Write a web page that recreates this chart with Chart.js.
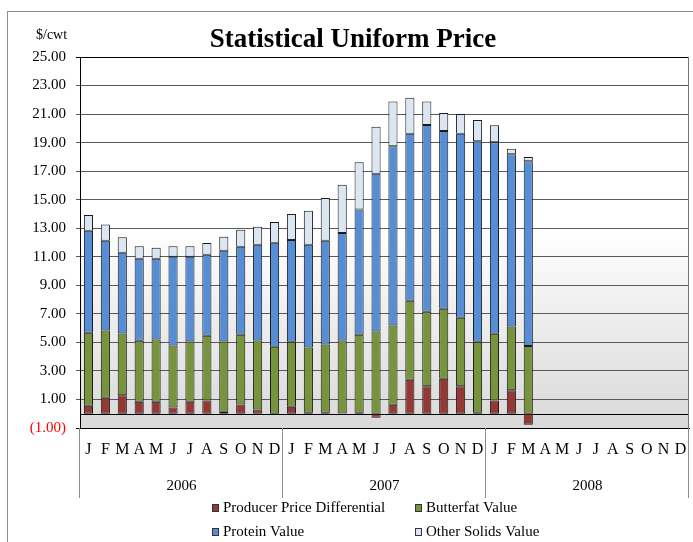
<!DOCTYPE html>
<html>
<head>
<meta charset="utf-8">
<script src="https://cdn.jsdelivr.net/npm/chart.js@4.4.1/dist/chart.umd.min.js"></script>
<style>
  html, body { margin: 0; padding: 0; background: #fff; }
  canvas { display: block; }
</style>
</head>
<body>
<canvas id="chart" width="693" height="542"></canvas>
<script>
// months, three years
const months = ['J','F','M','A','M','J','J','A','S','O','N','D']
const years = ['2006', '2007', '2008']
const labels = [].concat(months, months, months)

// $/cwt, Jan 2006 .. Mar 2008 (rest of 2008 empty)
const producerPriceDiff = [0.56, 1.12, 1.29, 0.84, 0.84, 0.44, 0.84, 0.93, 0.14, 0.65, 0.30, -0.05,
    0.49, 0.07, 0.07, 0.02, 0.07, -0.28, 0.63, 2.38, 1.92, 2.45, 1.92, 0.07,
    0.93, 1.64, -0.77]
const butterfatValue = [5.12, 4.72, 4.34, 4.28, 4.37, 4.35, 4.23, 4.54, 4.93, 4.89, 4.84, 4.70,
    4.56, 4.58, 4.79, 5.12, 5.47, 5.77, 5.56, 5.54, 5.23, 4.91, 4.81, 4.98,
    4.68, 4.48, 4.74]
const proteinValue = [7.15, 6.29, 5.66, 5.74, 5.65, 6.21, 5.93, 5.67, 6.36, 6.17, 6.71, 7.29,
    7.12, 7.20, 7.27, 7.52, 8.78, 11.05, 12.55, 11.71, 13.08, 12.45, 12.90, 14.04,
    13.41, 12.06, 12.95]
const otherSolidsValue = [1.10, 1.14, 1.07, 0.87, 0.78, 0.73, 0.73, 0.82, 0.98, 1.19, 1.26, 1.44,
    1.83, 2.38, 2.99, 3.39, 3.30, 3.30, 3.15, 2.52, 1.66, 1.26, 1.37, 1.49,
    1.19, 0.39, 0.30]

const serif = "'Liberation Serif', 'Times New Roman', serif"

// pad series out to 36 months
function pad(arr) {
    let out = arr.slice()
    while (out.length < labels.length) out.push(null)
    return out
}

const decor = {
    id: 'decor',
    beforeDraw(chart) {
        const ctx = chart.ctx
        const a = chart.chartArea
        ctx.save()
        // outer frame (runs off the right and bottom edge)
        ctx.strokeStyle = '#8c8c8c'
        ctx.lineWidth = 1
        ctx.strokeRect(7.5, 11.5, 900, 900)
        // plot background gradient
        let g = ctx.createLinearGradient(0, a.top, 0, a.bottom)
        g.addColorStop(0, '#ffffff')
        g.addColorStop(0.46, '#ffffff')
        g.addColorStop(1, '#d9d9d9')
        ctx.fillStyle = g
        ctx.fillRect(a.left, a.top, a.right - a.left, a.bottom - a.top)
        ctx.restore()
    },
    beforeDatasetsDraw(chart) {
        const ctx = chart.ctx
        const a = chart.chartArea
        const y0 = Math.round(chart.scales.y.getPixelForValue(0)) + 0.5
        ctx.save()
        ctx.strokeStyle = '#000'
        ctx.lineWidth = 1
        ctx.beginPath()
        ctx.moveTo(a.left, y0)
        ctx.lineTo(a.right, y0)
        ctx.stroke()
        // right edge of plot
        ctx.strokeStyle = '#777'
        ctx.beginPath()
        ctx.moveTo(a.right - 0.5, a.top)
        ctx.lineTo(a.right - 0.5, a.bottom)
        ctx.stroke()
        ctx.restore()
    },
    afterDraw(chart) {
        const ctx = chart.ctx
        const a = chart.chartArea
        const x = chart.scales.x
        ctx.save()
        // title and unit
        ctx.fillStyle = '#000'
        ctx.textAlign = 'center'
        ctx.textBaseline = 'alphabetic'
        ctx.font = 'bold 27px ' + serif
        ctx.fillText('Statistical Uniform Price', 353, 47)
        ctx.font = '14px ' + serif
        ctx.textAlign = 'left'
        ctx.textBaseline = 'middle'
        ctx.fillText('$/cwt', 36, 35)

        // year separators and labels
        ctx.strokeStyle = '#8c8c8c'
        ctx.lineWidth = 1
        for (let k = 0; k <= years.length; k++) {
            let px = Math.round(a.left + (a.right - a.left) * k / years.length) - 0.5
            ctx.beginPath()
            ctx.moveTo(px, a.bottom)
            ctx.lineTo(px, 498)
            ctx.stroke()
        }
        ctx.font = '15px ' + serif
        ctx.textAlign = 'center'
        years.forEach((yr, k) => {
            let cx = (x.getPixelForValue(k * 12) + x.getPixelForValue(k * 12 + 11)) / 2
            ctx.fillText(yr, cx, 486)
        })

        // legend, 2 x 2
        const cols = [212, 415]
        const rows = [508, 532]
        ctx.textAlign = 'left'
        chart.data.datasets.forEach((ds, i) => {
            let lx = cols[i % 2]
            let ly = rows[Math.floor(i / 2)]
            ctx.fillStyle = ds.backgroundColor
            ctx.fillRect(lx, ly - 4, 7, 8)
            ctx.strokeStyle = '#333'
            ctx.strokeRect(lx + 0.5, ly - 3.5, 6, 7)
            ctx.fillStyle = '#000'
            ctx.fillText(ds.label, lx + 11, ly)
        })
        ctx.restore()
    }
}

const ctx = document.getElementById('chart').getContext('2d')
new Chart(ctx, {
    type: 'bar',
    data: {
        labels: labels,
        datasets: [
            { label: 'Producer Price Differential', data: pad(producerPriceDiff), backgroundColor: '#953735' },
            { label: 'Butterfat Value', data: pad(butterfatValue), backgroundColor: '#77933c' },
            { label: 'Protein Value', data: pad(proteinValue), backgroundColor: '#558ed5' },
            { label: 'Other Solids Value', data: pad(otherSolidsValue), backgroundColor: '#dce6f2' }
        ]
    },
    options: {
        responsive: false,
        animation: false,
        layout: { padding: { top: 57, right: 4, left: 0, bottom: 0 } },
        datasets: {
            bar: {
                borderColor: '#1a1a1a',
                borderWidth: 1,
                borderSkipped: false,
                categoryPercentage: 1,
                barPercentage: 0.54
            }
        },
        plugins: {
            legend: { display: false },
            title: { display: false },
            tooltip: { enabled: false }
        },
        scales: {
            x: {
                stacked: true,
                grid: { display: false, drawTicks: false },
                border: { display: true, color: '#000' },
                ticks: {
                    autoSkip: false,
                    maxRotation: 0,
                    padding: 12,
                    color: '#000',
                    font: { family: serif, size: 16 }
                },
                afterFit(scale) {
                    scale.height = 114
                    scale.paddingLeft = 0
                    scale.paddingRight = 0
                }
            },
            y: {
                stacked: true,
                min: -1,
                max: 25,
                ticks: {
                    stepSize: 2,
                    padding: 10,
                    font: { family: serif, size: 15 },
                    color: ctx => ctx.tick.value < 0 ? '#ff0000' : '#000',
                    callback: v => v < 0 ? '(' + Math.abs(v).toFixed(2) + ')' : v.toFixed(2)
                },
                grid: {
                    color: c => (c.tick && (c.tick.value === -1 || c.tick.value === 25)) ? '#000' : '#5a5a5a',
                    tickLength: 4,
                    drawTicks: true
                },
                border: { display: true, color: '#000' },
                afterFit(scale) { scale.width = 80 }
            }
        }
    },
    plugins: [decor]
})
</script>
</body>
</html>
